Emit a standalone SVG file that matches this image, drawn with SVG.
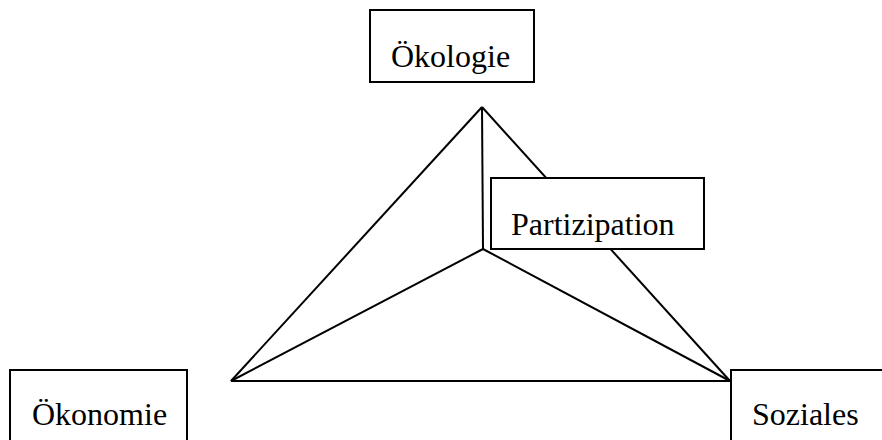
<svg xmlns="http://www.w3.org/2000/svg" width="882" height="440" viewBox="0 0 882 440">
<style>
.box{fill:#fff;stroke:#000;stroke-width:2}
.lbl{font-family:"Liberation Serif","Times New Roman",serif;font-size:32px;fill:#000}
.ln{stroke:#000;stroke-width:2;fill:none}
</style>
<rect width="882" height="440" fill="#fff"/>
<g id="connectors">
<line class="ln" x1="482" y1="107" x2="231" y2="381"/>
<line class="ln" x1="482" y1="107" x2="730" y2="381"/>
<line class="ln" x1="482" y1="107" x2="483" y2="249"/>
<line class="ln" x1="483" y1="249" x2="231" y2="381"/>
<line class="ln" x1="483" y1="249" x2="730" y2="381"/>
<line class="ln" x1="231" y1="381" x2="730" y2="381"/>
</g>
<g id="oekologie">
<rect class="box" x="370" y="10" width="164" height="72"/>
<text class="lbl" x="391" y="67">Ökologie</text>
</g>
<g id="partizipation">
<rect class="box" x="491" y="178" width="213" height="71"/>
<text class="lbl" x="511" y="235">Partizipation</text>
</g>
<g id="oekonomie">
<rect class="box" x="10" y="370" width="177" height="80"/>
<text class="lbl" x="32" y="425">Ökonomie</text>
</g>
<g id="soziales">
<rect class="box" x="731" y="370" width="160" height="80"/>
<text class="lbl" x="752" y="425">Soziales</text>
</g>
</svg>
